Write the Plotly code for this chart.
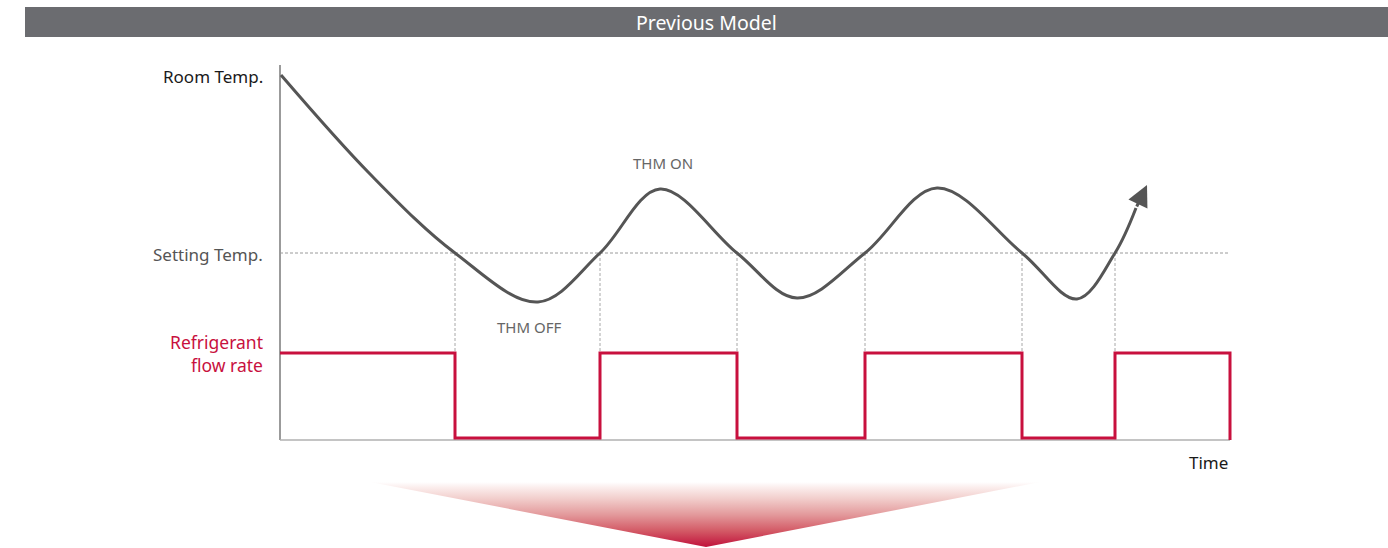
import plotly.graph_objects as go

# room temperature curve (time, temperature) in chart units
curve_t = [1, 90, 175, 258, 320, 380, 457, 517, 585, 657, 742, 797, 835, 856]
curve_temp = [365, 266, 187, 138, 187, 251, 187, 142, 187, 252, 187, 141, 187, 232]
arrow_tip = (867, 255)

setting_temp = 187
crossings = [175, 320, 457, 585, 742, 835]

# refrigerant flow (on/off steps)
flow_t = [0, 175, 320, 457, 585, 742, 835, 950, 950]
flow_level = [87, 2, 87, 2, 87, 2, 87, 87, 0]

t_end = 950
temp_top = 375

GREY = "#555555"
RED = "#c8103e"
FONT = "Noto Sans"

fig = go.Figure()

# axes lines
fig.add_trace(go.Scatter(x=[0, 0], y=[0, temp_top], mode="lines",
                         line=dict(color="#7a7a7a", width=1.5), hoverinfo="skip"))
fig.add_trace(go.Scatter(x=[0, t_end], y=[0, 0], mode="lines",
                         line=dict(color="#b0b0b0", width=1.5), hoverinfo="skip"))

# setting temp reference + crossing guides
fig.add_trace(go.Scatter(x=[0, t_end], y=[setting_temp, setting_temp], mode="lines",
                         line=dict(color="#9a9a9a", width=1, dash="3px,2px"), hoverinfo="skip"))
for c in crossings:
    fig.add_trace(go.Scatter(x=[c, c], y=[setting_temp, 0], mode="lines",
                             line=dict(color="#a8a8a8", width=1, dash="3px,2px"), hoverinfo="skip"))

fig.add_trace(go.Scatter(x=flow_t, y=flow_level, mode="lines", line_shape="hv",
                         line=dict(color=RED, width=3), hoverinfo="skip"))

fig.add_trace(go.Scatter(x=curve_t, y=curve_temp, mode="lines", line_shape="spline",
                         line=dict(color=GREY, width=3, smoothing=1.0), hoverinfo="skip"))

fig.add_annotation(x=arrow_tip[0], y=arrow_tip[1], ax=curve_t[-1], ay=curve_temp[-1],
                   xref="x", yref="y", axref="x", ayref="y", text="", showarrow=True,
                   arrowhead=2, arrowsize=1.4, arrowwidth=3, arrowcolor=GREY)

# gradient down-arrow on a full-page helper axis pair
fig.add_trace(go.Scatter(x=[370, 1040, 706, 370], y=[66, 66, 1, 66], xaxis="x2", yaxis="y2",
                         mode="lines", fill="toself", line=dict(width=0),
                         fillgradient=dict(type="vertical", colorscale=[
                             [0, "#c0123b"], [0.25, "#d35a66"], [0.5, "#e39a9c"],
                             [0.75, "#f2cfcd"], [0.92, "#fbeeed"], [1, "#ffffff"]]),
                         hoverinfo="skip"))

W, H = 1388, 548


def px(x):
    return x / W


def py(y):
    return (H - y) / H


fig.add_shape(type="rect", xref="paper", yref="paper", x0=px(25), x1=1, y0=py(37), y1=py(7),
              fillcolor="#6b6c70", line_width=0, layer="below")

labels = [
    ("Previous Model", 706, 22, "center", "#ffffff", 19.5),
    ("Room Temp.", 265, 76, "right", "#1a1a1a", 17),
    ("Setting Temp.", 265, 254, "right", GREY, 17),
    ("Refrigerant<br>flow rate", 265, 353, "right", RED, 17.5),
    ("THM ON", 663, 163, "center", "#666666", 15),
    ("THM OFF", 529, 327, "center", "#666666", 15),
    ("Time", 1230, 462, "right", "#1a1a1a", 17),
]
for text, x, y, anchor, color, size in labels:
    fig.add_annotation(x=px(x), y=py(y), xref="paper", yref="paper", text=text,
                       showarrow=False, xanchor=anchor, yanchor="middle", align=anchor,
                       font=dict(family=FONT, size=size, color=color))

fig.update_layout(
    width=W, height=H,
    margin=dict(l=0, r=0, t=0, b=0),
    paper_bgcolor="white", plot_bgcolor="rgba(0,0,0,0)",
    showlegend=False,
    xaxis=dict(domain=[px(270), px(1240)], range=[-10, 960], visible=False),
    yaxis=dict(domain=[py(450), py(55)], range=[-10, 385], visible=False),
    xaxis2=dict(domain=[0, 1], range=[0, W], visible=False, anchor="y2"),
    yaxis2=dict(domain=[0, 1], range=[0, H], visible=False, anchor="x2"),
)

fig.write_html("out.html", config={"displayModeBar": False},
               post_script="document.body.style.margin='0';")
